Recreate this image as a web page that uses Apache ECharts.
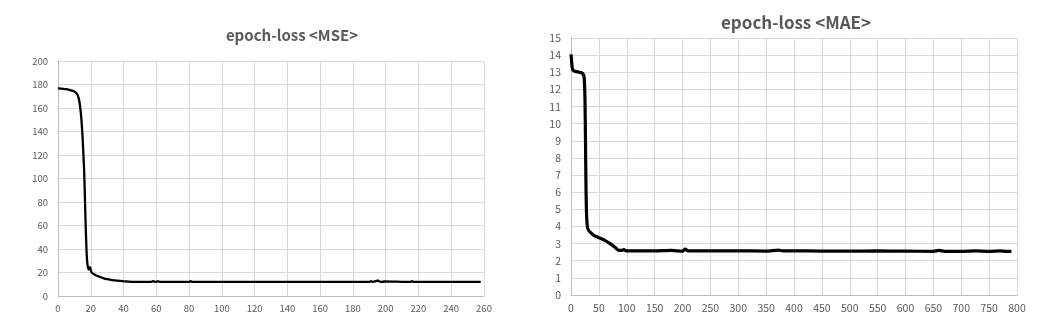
<!DOCTYPE html>
<html><head><meta charset="utf-8">
<script src="https://cdn.jsdelivr.net/npm/echarts@6/dist/echarts.min.js"></script>
<style>html,body{margin:0;padding:0;background:#fff}#c{width:1048px;height:331px}</style>
</head><body><div id="c"></div>
<script>
const mseTitle = 'epoch-loss <MSE>';
const maeTitle = 'epoch-loss <MAE>';
const mseEpochs = [0,2,5,8,10,11,12,13,14,15,16,16.5,17,17.5,18,18.7,19.5,20.5,22,24,26,28,30,33,36,40,43,45,50,57,58,60,61,62,63,80,81,82,100,150,190,191,192,194,195,196,198,199,215,216,217,258];
const mseValues = [177,176.5,176,175,174,173,171,166,155,135,105,80,55,36,27,22.5,24.5,20,18.5,17,16,15,14.3,13.5,13,12.5,12.3,12,12,12,12.6,12,12.6,12,12,12,12.6,12,12,12,12,12.6,12,12.6,13.2,12.5,12,12.5,12,12.6,12,12];
const maeEpochs = [0,1,2,4,8,15,20,23,24,25,26,27,28,29,30,32,35,40,50,60,70,80,86,90,95,100,120,150,180,200,205,210,250,300,350,372,380,400,450,500,550,600,650,660,670,700,725,750,770,780,790];
const maeValues = [14.05,13.7,13.3,13.1,13.05,13.0,12.95,12.8,12.5,11.5,9,6,4.6,4.1,3.9,3.75,3.65,3.5,3.35,3.2,3.0,2.75,2.6,2.6,2.65,2.57,2.58,2.57,2.6,2.56,2.68,2.58,2.57,2.58,2.56,2.62,2.57,2.58,2.56,2.56,2.57,2.56,2.55,2.6,2.55,2.55,2.57,2.55,2.57,2.55,2.55];
const mseXTicks = {min:0,max:260,interval:20};
const mseYTicks = {min:0,max:200,interval:20};
const maeXTicks = {min:0,max:800,interval:50};
const maeYTicks = {min:0,max:15,interval:1};

const mseData = mseEpochs.map((e,i)=>[e,mseValues[i]]);
const maeData = maeEpochs.map((e,i)=>[e,maeValues[i]]);
const font = '"Noto Sans CJK KR","Noto Sans",sans-serif';
const labelColor = '#595959';
const gridColor = '#d9d9d9';
function xAx(idx, t, fs){return {type:'value',gridIndex:idx,min:t.min,max:t.max,interval:t.interval,
  axisLine:{show:true,lineStyle:{color:'#bfbfbf'}},axisTick:{show:false},
  splitLine:{show:true,lineStyle:{color:gridColor}},
  axisLabel:{color:labelColor,fontSize:fs,fontFamily:font,margin:8}};}
function yAx(idx, t, fs){return {type:'value',gridIndex:idx,min:t.min,max:t.max,interval:t.interval,
  axisLine:{show:true,lineStyle:{color:'#bfbfbf'}},axisTick:{show:false},
  splitLine:{show:true,lineStyle:{color:gridColor}},
  axisLabel:{color:labelColor,fontSize:fs,fontFamily:font,margin:10}};}
const chart = echarts.init(document.getElementById('c'),null,{renderer:'canvas'});
chart.setOption({
  animation:false,
  backgroundColor:'#fff',
  title:[
    {text:mseTitle,left:287,top:23,textAlign:'center',textStyle:{color:labelColor,fontSize:15,fontWeight:'bold',fontFamily:font}},
    {text:maeTitle,left:791,top:9,textAlign:'center',textStyle:{color:labelColor,fontSize:17,fontWeight:'bold',fontFamily:font}}
  ],
  grid:[
    {left:58,right:564,top:61,bottom:35,containLabel:false},
    {left:571,right:31,top:38,bottom:36,containLabel:false}
  ],
  xAxis:[xAx(0,mseXTicks,9.5),xAx(1,maeXTicks,10.5)],
  yAxis:[yAx(0,mseYTicks,9.5),yAx(1,maeYTicks,10.5)],
  series:[
    {type:'line',xAxisIndex:0,yAxisIndex:0,data:mseData,showSymbol:false,smooth:0.2,lineStyle:{color:'#000',width:2.3}},
    {type:'line',xAxisIndex:1,yAxisIndex:1,data:maeData,showSymbol:false,smooth:0.2,lineStyle:{color:'#000',width:3.2}}
  ]
});
</script></body></html>
